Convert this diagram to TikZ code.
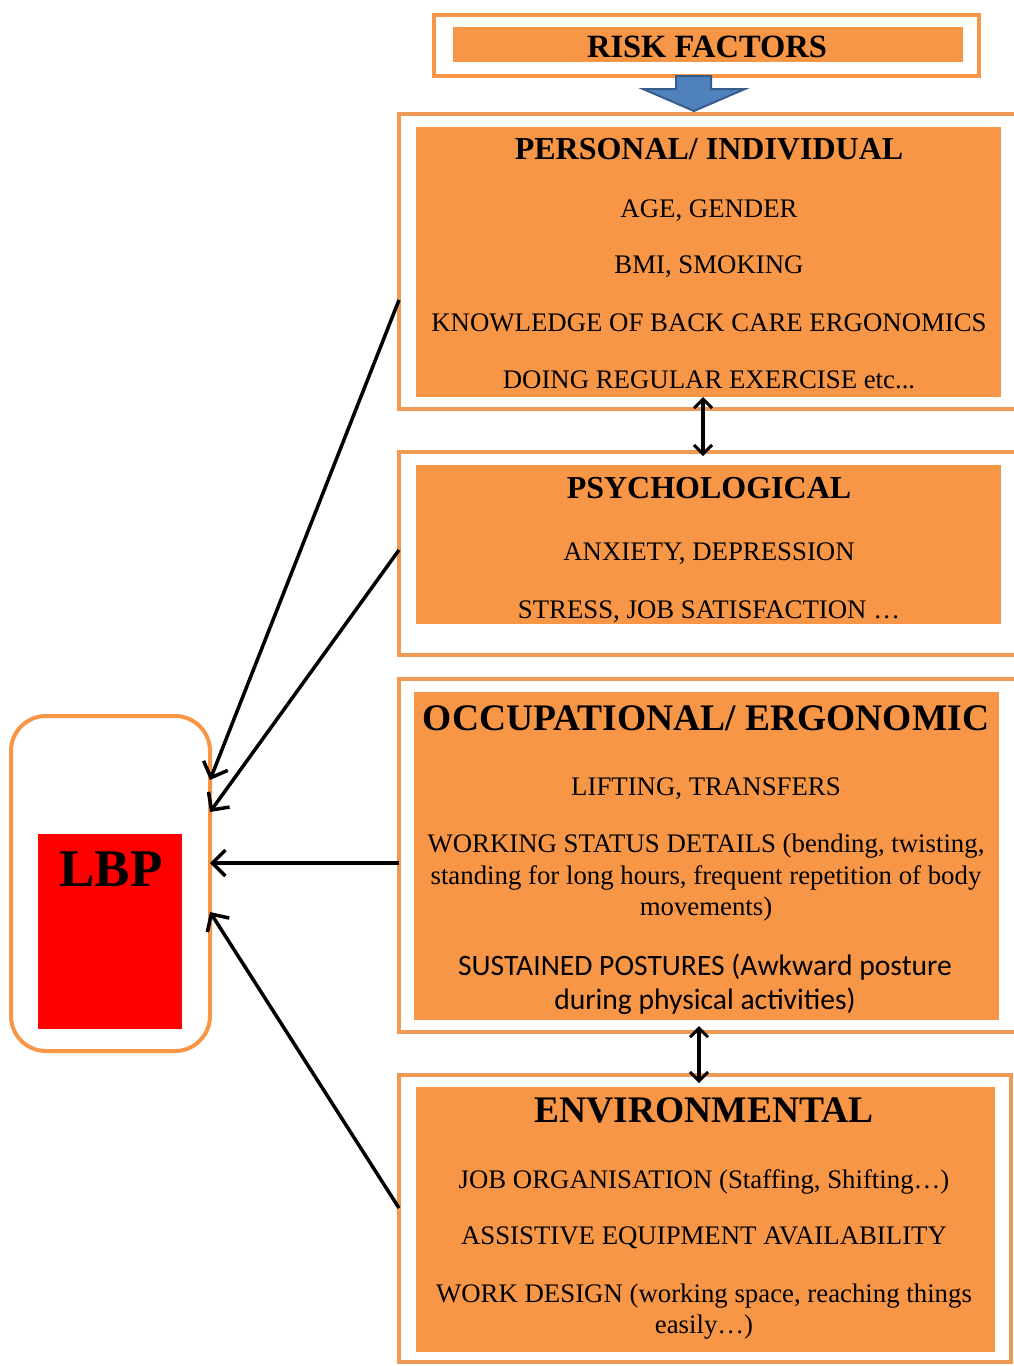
\documentclass[tikz,border=0pt]{standalone}
\usepackage{fontspec}
\setmainfont{Liberation Serif}
\newfontfamily\calibrifont{Carlito}
\definecolor{riskorange}{HTML}{F79646}
\definecolor{framerim}{HTML}{EE9A55}
\definecolor{arrowblue}{HTML}{4F81BD}
\definecolor{arrowrim}{HTML}{385D8A}
\definecolor{lbpred}{rgb}{1.0, 0.0, 0.0}
\usetikzlibrary{calc, arrows.meta, positioning}
\tikzstyle{outerbox} = [
    rectangle,
    anchor = north west,
    inner sep = 0pt,
    outer sep = 0pt,
    line width = 4pt,
    draw = framerim,
    fill = white
]
\tikzstyle{innerbox} = [
    rectangle,
    anchor = north west,
    inner sep = 0pt,
    outer sep = 0pt,
    fill = riskorange
]
\tikzstyle{headtext} = [
    anchor = base,
    inner sep = 0pt,
    font = \bfseries\fontsize{32}{32}\selectfont
]
\tikzstyle{bigheadtext} = [
    anchor = base,
    inner sep = 0pt,
    font = \bfseries\fontsize{37.5}{37.5}\selectfont
]
\tikzstyle{bodytext} = [
    anchor = base,
    inner sep = 0pt,
    font = \fontsize{26.8}{26.8}\selectfont
]
\tikzstyle{link} = [
    line width = 3.5pt,
    -{Straight Barb[length=13pt,width=26pt,line width=3.5pt]}
]
\tikzstyle{twoway} = [
    line width = 3.5pt,
    {Straight Barb[length=9pt,width=18pt,line width=3pt]}-{Straight Barb[length=9pt,width=18pt,line width=3pt]}
]

\begin{document}
\begin{tikzpicture}[x=1pt, y=-1pt]
        \useasboundingbox (0,0) rectangle (1013,1366);

        %% Title
        \node (riskframe) [outerbox, draw=riskorange, minimum width=545pt, minimum height=61pt] at (434,15) {};
        \node (riskbar) [innerbox, minimum width=510pt, minimum height=35pt] at (453,27) {};
        \node (risktext) [anchor=base, inner sep=0pt, font=\bfseries\fontsize{32.5}{32.5}\selectfont] at (707,57) {RISK FACTORS};
        \draw [fill=arrowblue, draw=arrowrim, line width=2pt] ([xshift=-30.5pt]riskframe.south) -- ++(0,13) -- ++(-33,0) -- ++(51,22) -- ++(51,-22) -- ++(-34,0) -- ++(0,-13) -- cycle;

        %% Boxes
        \node (personalframe) [outerbox, minimum width=630pt, minimum height=295pt] at (399,114) {};
        \node (personal) [innerbox, minimum width=585pt, minimum height=270pt] at (416,127) {};
        \node (psychframe) [outerbox, minimum width=630pt, minimum height=203pt] at (399,452) {};
        \node (psycho) [innerbox, minimum width=585pt, minimum height=159pt] at (416,465) {};
        \node (occupframe) [outerbox, minimum width=630pt, minimum height=353pt] at (399,679) {};
        \node (occup) [innerbox, minimum width=585pt, minimum height=328pt] at (414,692) {};
        \node (envframe) [outerbox, minimum width=612pt, minimum height=287pt] at (399,1075) {};
        \node (environ) [innerbox, minimum width=579pt, minimum height=265pt] at (416,1087) {};

        %% Texts
        \node (personalhead) [headtext] at (709,159) {PERSONAL/ INDIVIDUAL};
        \foreach \y/\txt [count=\i] in {217/{AGE, GENDER}, 273/{BMI, SMOKING}, 331/{KNOWLEDGE OF BACK CARE ERGONOMICS}, 388/{DOING REGULAR EXERCISE etc...}}
            \node (personal\i) [bodytext] at (709,\y) {\txt};

        \node (psychohead) [headtext] at (709,498) {PSYCHOLOGICAL};
        \foreach \y/\txt [count=\i] in {560/{ANXIETY, DEPRESSION}, 618/{STRESS, JOB SATISFACTION …}}
            \node (psycho\i) [bodytext] at (709,\y) {\txt};

        \node (occuphead) [bigheadtext] at (706,730) {OCCUPATIONAL/ ERGONOMIC};
        \foreach \y/\txt [count=\i] in {795/{LIFTING, TRANSFERS}, 852/{WORKING STATUS DETAILS (bending, twisting,}, 884/{standing for long hours, frequent repetition of body}, 915/{movements)}}
            \node (occup\i) [bodytext] at (706,\y) {\txt};
        \node (occup5) [bodytext, font=\calibrifont\fontsize{29.6}{29.6}\selectfont] at (705,975) {SUSTAINED POSTURES (Awkward posture};
        \node (occup6) [bodytext, font=\calibrifont\fontsize{29.6}{29.6}\selectfont] at (705,1009) {during physical activities)};

        \node (environhead) [bigheadtext] at (704,1122) {ENVIRONMENTAL};
        \foreach \y/\txt [count=\i] in {1188/{JOB ORGANISATION (Staffing, Shifting…)}, 1244/{ASSISTIVE EQUIPMENT AVAILABILITY}, 1302/{WORK DESIGN (working space, reaching things}, 1333/{easily…)}}
            \node (environ\i) [bodytext] at (704,\y) {\txt};

        %% LBP
        \node (lbpframe) [rectangle, anchor=north west, inner sep=0pt, outer sep=0pt, rounded corners=35pt, line width=4pt, draw=riskorange, minimum width=199pt, minimum height=335pt] at (11,716) {};
        \node (lbpbox) [innerbox, fill=lbpred, minimum width=144pt, minimum height=195pt] at (38,834) {};
        \node (lbptext) [anchor=base, inner sep=0pt, font=\bfseries\fontsize{53}{53}\selectfont] at (111,886) {LBP};

        %% Arrows
        \draw [twoway] ([xshift=-5.5pt]personal.south) -- ([xshift=-5.5pt, yshift=9pt]psycho.north);
        \draw [twoway] ([xshift=-7.5pt, yshift=-6pt]occup.south) -- ([xshift=-6pt, yshift=-8pt]envframe.north);

        \draw [link] ([yshift=-38.5pt]personalframe.west) -- ([yshift=103.5pt]lbpframe.east);
        \draw [link] ([yshift=3.5pt]psychframe.west) -- ([yshift=71.5pt]lbpframe.east);
        \draw [link] ([yshift=-7.5pt]occupframe.west) -- ([yshift=20.5pt]lbpframe.east);
        \draw [link] ([yshift=10.5pt]envframe.west) -- ([yshift=-28.5pt]lbpframe.east);

\end{tikzpicture}
\end{document}
